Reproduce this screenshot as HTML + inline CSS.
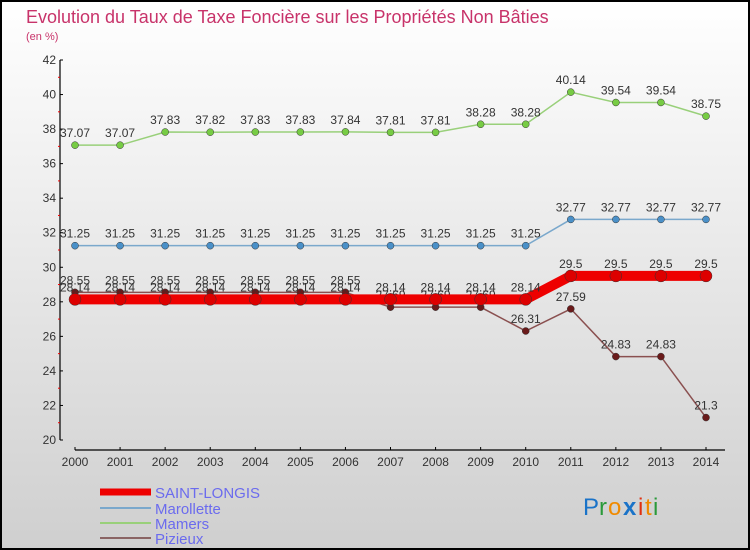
<!DOCTYPE html>
<html><head><meta charset="utf-8"><style>
body{margin:0;width:750px;height:550px;overflow:hidden}
svg{display:block;font-family:"Liberation Sans",sans-serif}
</style></head><body>
<svg id="c" width="750" height="550" viewBox="0 0 750 550">
<defs><linearGradient id="bg" x1="0" y1="0" x2="0" y2="1"><stop offset="0" stop-color="#ffffff"/><stop offset="1" stop-color="#cfcfcf"/></linearGradient></defs>
<rect x="1" y="1" width="748" height="548" fill="url(#bg)" stroke="#000" stroke-width="2"/>
<text x="26" y="23" font-size="18" fill="#c8336a">Evolution du Taux de Taxe Foncière sur les Propriétés Non Bâties</text>
<text x="26" y="40" font-size="11" fill="#c8336a">(en %)</text>
<g id="axes"></g>
<g id="series"></g>
<g>
<line x1="100" y1="492" x2="151" y2="492" stroke="#ee0000" stroke-width="7"/>
<text x="155" y="498" font-size="15" fill="#6b6bee">SAINT-LONGIS</text>
<line x1="100" y1="508" x2="151" y2="508" stroke="#7aa8cc" stroke-width="2"/>
<text x="155" y="514" font-size="15" fill="#6b6bee">Marollette</text>
<line x1="100" y1="523" x2="151" y2="523" stroke="#99d07a" stroke-width="2"/>
<text x="155" y="529" font-size="15" fill="#6b6bee">Mamers</text>
<line x1="100" y1="538" x2="151" y2="538" stroke="#8a6464" stroke-width="2"/>
<text x="155" y="544" font-size="15" fill="#6b6bee">Pizieux</text>
</g>
<g font-size="24" font-family="'Liberation Sans',sans-serif">
<text x="583" y="515" fill="#1a73c8">P</text><text x="599" y="515" fill="#2a9a3a">r</text><text x="608" y="515" fill="#f08a00">o</text><text x="623" y="515" fill="#1a73c8" font-weight="bold">x</text><text x="638" y="515" fill="#e03010">i</text><text x="645" y="515" fill="#f08a00">t</text><text x="653" y="515" fill="#2a9a3a">i</text>
</g>
</svg>
<script>
const years=["2000","2001","2002","2003","2004","2005","2006","2007","2008","2009","2010","2011","2012","2013","2014"];
const yTicks=[20,22,24,26,28,30,32,34,36,38,40,42];
const saintLongis=[28.14,28.14,28.14,28.14,28.14,28.14,28.14,28.14,28.14,28.14,28.14,29.5,29.5,29.5,29.5];
const marollette=[31.25,31.25,31.25,31.25,31.25,31.25,31.25,31.25,31.25,31.25,31.25,32.77,32.77,32.77,32.77];
const mamers=[37.07,37.07,37.83,37.82,37.83,37.83,37.84,37.81,37.81,38.28,38.28,40.14,39.54,39.54,38.75];
const pizieux=[28.55,28.55,28.55,28.55,28.55,28.55,28.55,27.69,27.69,27.69,26.31,27.59,24.83,24.83,21.3];
const NS="http://www.w3.org/2000/svg";
const X=i=>75+i*(631/(years.length-1));
const Y=v=>440-(v-20)*(380/22);
function mk(t,a,p){const e=document.createElementNS(NS,t);for(const k in a)e.setAttribute(k,a[k]);p.appendChild(e);return e;}
const ax=document.getElementById('axes');
let e=mk('line',{x1:60,y1:Y(42),x2:60,y2:Y(20),stroke:'#000','stroke-width':1.2},ax);


e=mk('line',{x1:X(0),y1:450,x2:725,y2:450,stroke:'#000','stroke-width':1.2},ax);


yTicks.forEach((v,i)=>{
 mk('line',{x1:60,y1:Y(v),x2:63,y2:Y(v),stroke:'#000'},ax);
 if(i<yTicks.length-1)mk('line',{x1:58,y1:Y(v+1),x2:60,y2:Y(v+1),stroke:'#e00'},ax);
 const t=mk('text',{x:56,y:Y(v)+4,'font-size':12,fill:'#333','text-anchor':'end'},ax);
 t.textContent=v;
 
 
});
years.forEach((y,i)=>{
 mk('line',{x1:X(i),y1:447,x2:X(i),y2:450,stroke:'#000'},ax);
 const t=mk('text',{x:X(i),y:466,'font-size':12,fill:'#333','text-anchor':'middle'},ax);
 t.textContent=y;
 
 
});
const sg=document.getElementById('series');
function draw(vals,name,col,w,r,dot){
 const g=mk('g',{},sg);
 
 
 const pl=mk('polyline',{points:vals.map((v,i)=>X(i)+','+Y(v)).join(' '),fill:'none',stroke:col,'stroke-width':w},g);
 
 
 vals.forEach((v,i)=>{
  const c=mk('circle',{cx:X(i),cy:Y(v),r:r,fill:dot,stroke:'#333','stroke-width':0.5},g);
  
  
  const t=mk('text',{x:X(i),y:Y(v)-8,'font-size':12,fill:'#333','text-anchor':'middle'},g);
  t.textContent=v;
  
  
 });
}
draw(mamers,'mamers','#99d07a',1.5,3.5,'#77cc44');
draw(marollette,'marollette','#7aa8cc',1.5,3.5,'#4a90c8');
draw(pizieux,'pizieux','#8a5050',1.5,3.5,'#6a1a1a');
draw(saintLongis,'saint-longis','#ee0000',10,6,'#dd0000');
</script>
</body></html>
